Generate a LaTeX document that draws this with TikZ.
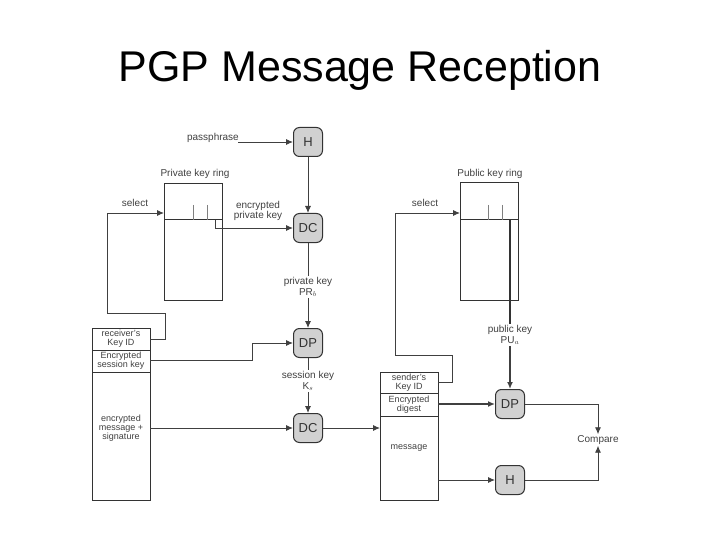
\documentclass[tikz,border=0pt]{standalone}
\usepackage{fontspec}
\setmainfont{Liberation Sans}
\usetikzlibrary{arrows.meta}
\begin{document}
\begin{tikzpicture}[x=1pt,y=-1pt,
  op/.style={draw=black!80,line width=1pt,fill=black!18,rounded corners=6pt,minimum width=29pt,minimum height=29pt,inner sep=0pt,font=\fontsize{13}{14}\selectfont,text=black!80},
  box/.style={draw=black!80,line width=1pt},
  ln/.style={draw=black!75,line width=0.9pt},
  ar/.style={ln,-{Latex[length=7pt,width=6pt]}},
  lbl/.style={font=\fontsize{10}{10.5}\selectfont,text=black!75,align=center,inner sep=1pt},
  cell/.style={font=\fontsize{9}{9}\selectfont,text=black!75,align=center,inner sep=0pt}]
\useasboundingbox (0,0) rectangle (720,540);
\node (title) at (360,70) {\fontsize{43}{46}\selectfont PGP Message Reception};
% nodes
\node[op] (H1) at (308,142) {H};
\node[op] (DC1) at (308,228) {DC};
\node[op] (DP1) at (308,343) {DP};
\node[op] (DC2) at (308,428) {DC};
\node[op] (DP2) at (510,404) {DP};
\node[op] (H2) at (510,480) {H};
\node[lbl] (cmp) at (598,440) {Compare};
% private key ring
\draw[box] (164,184) rectangle (222,300);
\draw[box] (164,220) -- (222,220);
\draw[black!50] (193,205) -- (193,220) (207,205) -- (207,220);
\node[lbl] (prk) at (195,174) {Private key ring};
% public key ring
\draw[box] (460,183) rectangle (518,300);
\draw[box] (460,220) -- (518,220);
\draw[black!50] (488,205) -- (488,220) (502,205) -- (502,220);
\node[lbl] (puk) at (490,174) {Public key ring};
% left message
\draw[box] (92,328) rectangle (150,500);
\draw[box] (92,350) -- (150,350) (92,372) -- (150,372);
\node[cell] (rkid) at (121,339) {receiver's\\Key ID};
\node[cell] (esk) at (121,361) {Encrypted\\session key};
\node[cell] (ems) at (121,428) {encrypted\\message +\\signature};
% right message
\draw[box] (380,372) rectangle (438,500);
\draw[box] (380,393) -- (438,393) (380,416) -- (438,416);
\node[cell] (skid) at (409,383) {sender's\\Key ID};
\node[cell] (edg) at (409,405) {Encrypted\\digest};
\node[cell] (msg) at (409,448) {message};
% labels
\node[lbl,anchor=east] (pp) at (240,138) {passphrase};
\coordinate (ppend) at (238,142);
\draw[ar] (ppend) -- (H1);
\draw[ar] (H1) -- (DC1);
\node[lbl] (epk) at (258,211) {encrypted\\private key};
\coordinate (epk1) at (215,220);
\draw[ar] (epk1) |- (DC1);
\node[lbl] (sel1) at (135,203) {select};
\coordinate (s1a) at (150,339);
\coordinate (s1b) at (164,213);
\draw[ar] (s1a) -- (165,339) -- (165,313) -- (107,313) -- (107,213) -- (s1b);
\node[lbl,fill=white] (prb) at (308,287) {private key\\PR$_b$};
\draw[ln] (DC1) -- (prb);
\draw[ar] (prb) -- (DP1);
\coordinate (esk1) at (150,360);
\draw[ar] (esk1) -- (252,360) -- (252,343) -- (DP1);
\node[lbl,fill=white] (ks) at (308,381) {session key\\K$_s$};
\draw[ln] (DP1) -- (ks);
\draw[ar] (ks) -- (DC2);
\coordinate (ems1) at (150,428);
\draw[ar] (ems1) -- (DC2);
\coordinate (rin) at (380,428);
\draw[ar] (DC2) -- (rin);
\node[lbl] (sel2) at (425,203) {select};
\coordinate (s2a) at (438,382);
\coordinate (s2b) at (460,213);
\draw[ar] (s2a) -- (452,382) -- (452,355) -- (395,355) -- (395,213) -- (s2b);
\node[lbl,fill=white] (pua) at (510,335) {public key\\PU$_a$};
\coordinate (pk1) at (510,220);
\draw[line width=1.4pt,black!80] (pk1) -- (pua);
\draw[ar,line width=1.4pt] (pua) -- (DP2);
\coordinate (edg1) at (438,404);
\draw[ar,line width=1.6pt] (edg1) -- (DP2);
\coordinate (msg1) at (438,480);
\draw[ar] (msg1) -- (H2);
\draw[ar] (DP2) -| (cmp.north);
\draw[ar] (H2) -| (cmp.south);
\end{tikzpicture}
\end{document}
